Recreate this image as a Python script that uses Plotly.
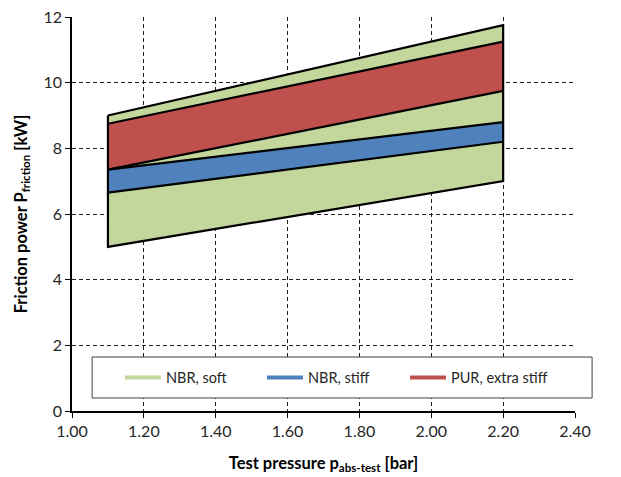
import plotly.graph_objects as go

# Test pressure endpoints [bar]
pressure = [1.1, 2.2]

# Friction power bands [kW]: lower and upper bound at each pressure
nbr_soft_low = [5.0, 7.0]
nbr_soft_high = [9.0, 11.75]
nbr_stiff_low = [6.65, 8.2]
nbr_stiff_high = [7.35, 8.8]
pur_low = [7.35, 9.75]
pur_high = [8.75, 11.25]

series = [
    ("NBR, soft", nbr_soft_low, nbr_soft_high, "#C3D69B"),
    ("PUR, extra stiff", pur_low, pur_high, "#C0504D"),
    ("NBR, stiff", nbr_stiff_low, nbr_stiff_high, "#4F81BD"),
]
legend_order = ["NBR, soft", "NBR, stiff", "PUR, extra stiff"]
legend_x = [0.0954, 0.3777, 0.662]

fig = go.Figure()


def band_polygon(low, high):
    xs = pressure + pressure[::-1] + [pressure[0]]
    ys = high + low[::-1] + [high[0]]
    return xs, ys


# filled bands
for name, low, high, color in series:
    xs, ys = band_polygon(low, high)
    fig.add_trace(go.Scatter(x=xs, y=ys, fill="toself", fillcolor=color,
                             mode="lines", line=dict(width=0, color=color),
                             showlegend=False, hoverinfo="skip"))

# black outlines on top of the fills
for name, low, high, color in series:
    if name == "NBR, soft":
        xs, ys = band_polygon(low, high)
        fig.add_trace(go.Scatter(x=xs, y=ys, mode="lines",
                                 line=dict(color="black", width=2.2),
                                 showlegend=False, hoverinfo="skip"))
    else:
        for edge in (low, high):
            fig.add_trace(go.Scatter(x=pressure, y=edge, mode="lines",
                                     line=dict(color="black", width=2.2),
                                     showlegend=False, hoverinfo="skip"))

font_family = "Lato, Carlito, Calibri, sans-serif"
legend_font = dict(family=font_family, size=14.5, color="#262626")

# legend entries as short coloured lines, one legend group per entry
colors = {n: c for n, _, _, c in series}
legend_layout = {}
for i, name in enumerate(legend_order):
    key = "legend" if i == 0 else f"legend{i + 1}"
    fig.add_trace(go.Scatter(x=[None], y=[None], mode="lines", name=name,
                             legend=key,
                             line=dict(color=colors[name], width=4)))
    legend_layout[key] = dict(orientation="h", x=legend_x[i], xanchor="left",
                              y=0.085, yanchor="middle",
                              bgcolor="rgba(0,0,0,0)", borderwidth=0,
                              itemwidth=36, font=legend_font)

axis_common = dict(
    showline=True, linecolor="black", linewidth=1.5,
    ticks="outside", ticklen=5, tickcolor="black", tickwidth=1,
    showgrid=True, gridcolor="#202020", gridwidth=1, griddash="4px,3px",
    zeroline=False, mirror=False, automargin=False,
    tickfont=dict(family=font_family, size=16, color="#262626"),
)
title_font = dict(family=font_family, size=16.5, color="black", weight="bold")

fig.update_layout(
    width=621, height=477,
    margin=dict(l=72, r=46, t=17, b=66),
    paper_bgcolor="white", plot_bgcolor="white",
    font=dict(family=font_family, color="#262626"),
    xaxis=dict(range=[1.0, 2.4], dtick=0.2, tick0=1.0, tickformat=".2f",
               title=dict(text="Test pressure p<sub>abs-test</sub> [bar]",
                          font=title_font, standoff=18),
               **axis_common),
    yaxis=dict(range=[0, 12], dtick=2, tick0=0,
               title=dict(text="Friction power P<sub>friction</sub> [kW]",
                          font=title_font, standoff=12),
               **axis_common),
    shapes=[dict(type="rect", xref="paper", yref="paper",
                 x0=0.04, x1=1.034, y0=0.033, y1=0.137,
                 line=dict(color="#404040", width=1), fillcolor="white",
                 layer="above")],
    **legend_layout,
)

fig.write_html("out.html")
